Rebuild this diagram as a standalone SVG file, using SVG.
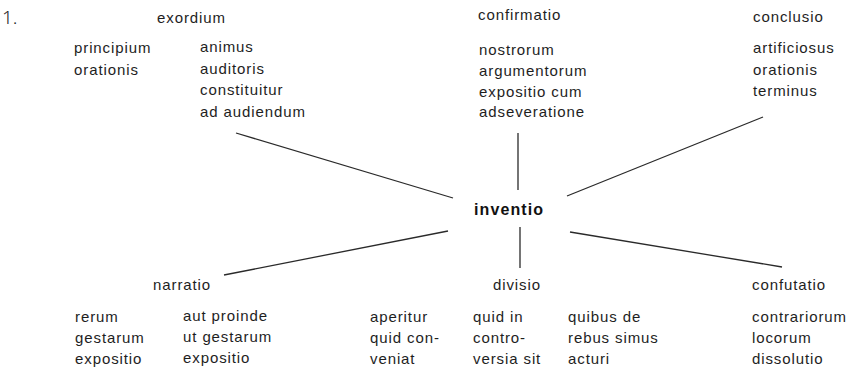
<svg xmlns="http://www.w3.org/2000/svg" width="866" height="368" viewBox="0 0 866 368">
<style>
text{font-family:"Liberation Sans",Arial,sans-serif;font-size:15px;fill:#1e1e1e;letter-spacing:0.9px}
.hub{font-weight:bold;font-size:16px;letter-spacing:1.1px;fill:#111}
.num{font-family:"Noto Sans",sans-serif;font-size:19px;letter-spacing:0;font-weight:300}
.c line{stroke:#2a2a2a;stroke-width:1.3;fill:none}
</style>
<rect width="866" height="368" fill="#fff"/>
<text class="num" x="2" y="24">1.</text>
<g class="c" id="connectors">
<line x1="236" y1="133" x2="453" y2="198"/>
<line x1="518" y1="133" x2="518" y2="190"/>
<line x1="567" y1="196" x2="763" y2="117"/>
<line x1="224" y1="275" x2="448" y2="231"/>
<line x1="520" y1="227" x2="520" y2="268"/>
<line x1="570" y1="232" x2="782" y2="267"/>
</g>
<g id="inventio"><text class="hub" x="474" y="215">inventio</text></g>
<g id="exordium">
<text x="157" y="22.5">exordium</text>
<text x="74" y="53">principium</text>
<text x="74" y="74.5">orationis</text>
<text x="200" y="52">animus</text>
<text x="200" y="73.5">auditoris</text>
<text x="200" y="95">constituitur</text>
<text x="200" y="116.5">ad audiendum</text>
</g>
<g id="confirmatio">
<text x="478" y="20">confirmatio</text>
<text x="479" y="54.5">nostrorum</text>
<text x="479" y="75.5">argumentorum</text>
<text x="479" y="96.5">expositio cum</text>
<text x="479" y="117">adseveratione</text>
</g>
<g id="conclusio">
<text x="753" y="22">conclusio</text>
<text x="753" y="53">artificiosus</text>
<text x="753" y="74.5">orationis</text>
<text x="753" y="96">terminus</text>
</g>
<g id="narratio">
<text x="153" y="289.5">narratio</text>
<text x="75" y="322">rerum</text>
<text x="75" y="343">gestarum</text>
<text x="75" y="364">expositio</text>
<text x="183" y="321">aut proinde</text>
<text x="183" y="342">ut gestarum</text>
<text x="183" y="363">expositio</text>
</g>
<g id="divisio">
<text x="493" y="290">divisio</text>
<text x="370" y="321.5">aperitur</text>
<text x="370" y="342.5">quid con-</text>
<text x="370" y="363.5">veniat</text>
<text x="473" y="322">quid in</text>
<text x="473" y="343">contro-</text>
<text x="473" y="364">versia sit</text>
<text x="568" y="322">quibus de</text>
<text x="568" y="343">rebus simus</text>
<text x="568" y="364">acturi</text>
</g>
<g id="confutatio">
<text x="752" y="290">confutatio</text>
<text x="752" y="322">contrariorum</text>
<text x="752" y="343">locorum</text>
<text x="752" y="364">dissolutio</text>
</g>
</svg>
